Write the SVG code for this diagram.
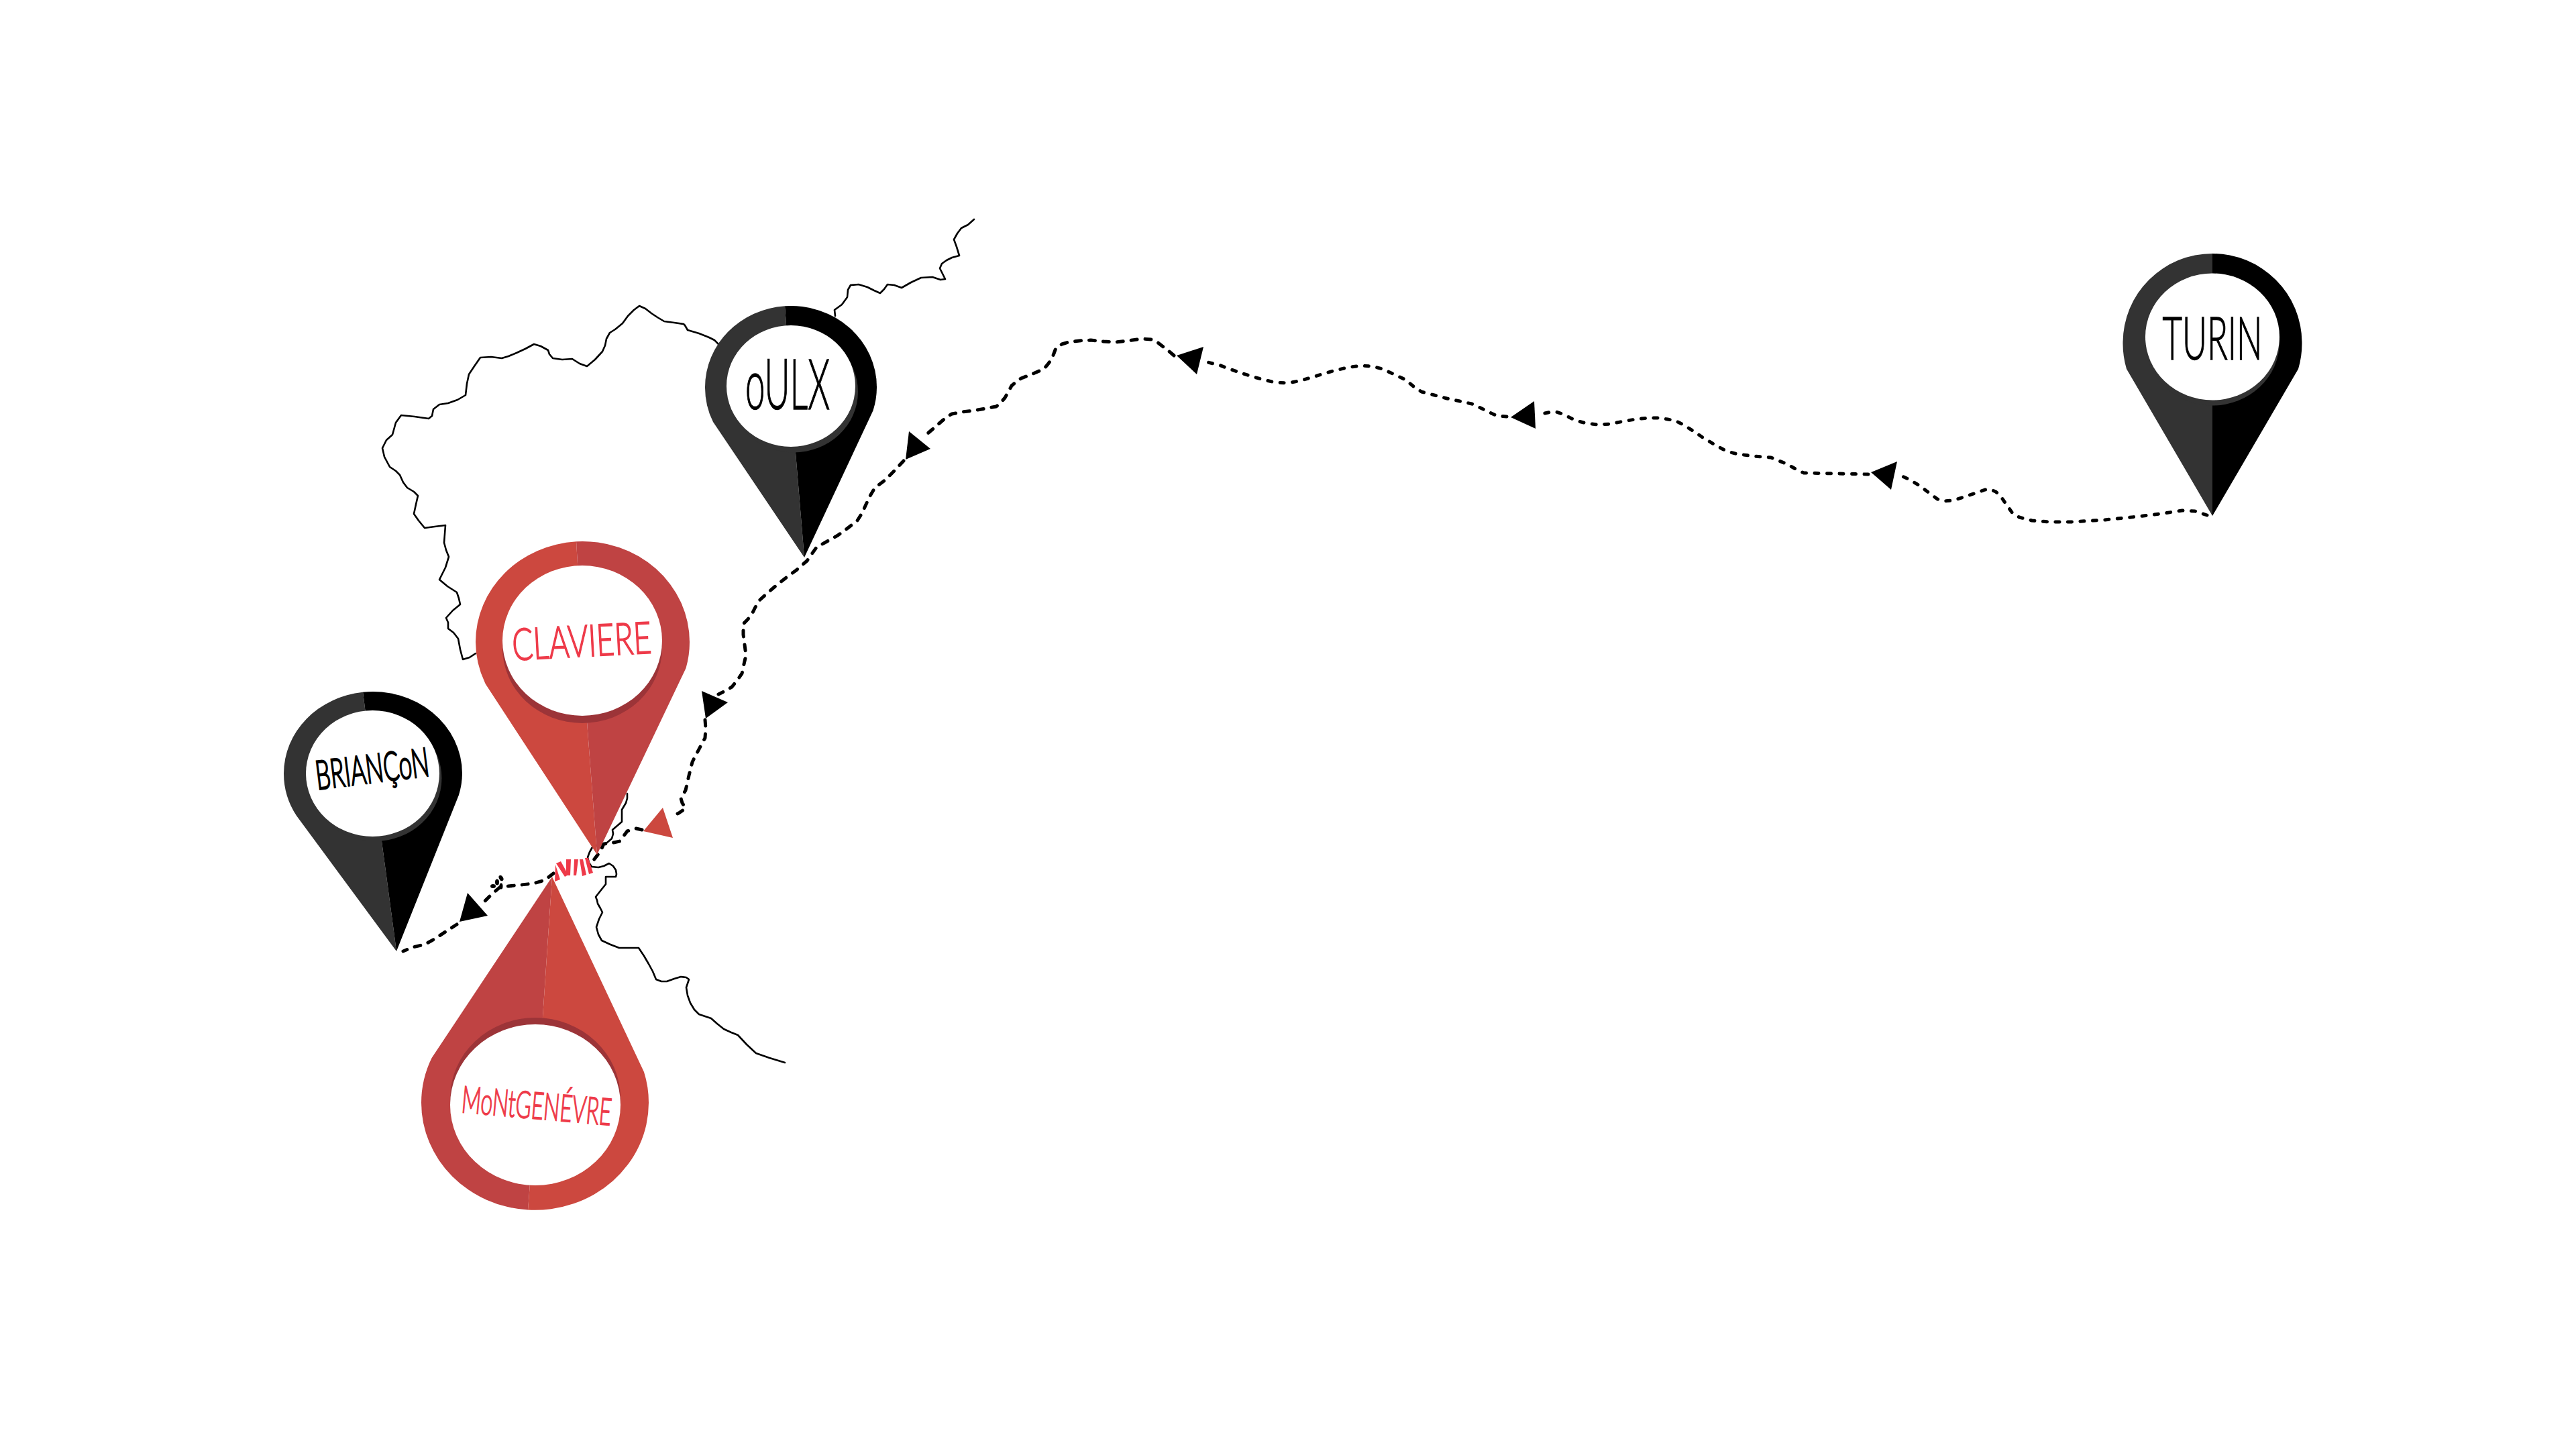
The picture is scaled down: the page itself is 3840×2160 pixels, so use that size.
<svg xmlns="http://www.w3.org/2000/svg" width="3840" height="2160" viewBox="0 0 3840 2160">
<style>
.river{fill:none;stroke:#000;stroke-width:2.6;stroke-linejoin:round;stroke-linecap:round}
.dot{fill:none;stroke:#000;stroke-width:5;stroke-linecap:round;stroke-linejoin:round;stroke-dasharray:6 12.500}
.dash{fill:none;stroke:#000;stroke-width:5;stroke-linecap:round;stroke-linejoin:round;stroke-dasharray:9 12}
.k1{fill:#333}.k2{fill:#000}.ks{fill:#333}
.r1{fill:#CC483F}.r2{fill:#BF4343}.rs{fill:#9C3438}
.w{fill:#fff}
.t{font-family:"Lato","Liberation Sans",sans-serif;font-weight:300;text-anchor:middle}
.tk{fill:#000;stroke:#000;stroke-width:1.4}
.tr{fill:#EE3A49;stroke:#EE3A49;stroke-width:1.6}
.stripe{fill:#EE3A49}
</style>
<g id="rivers">
<path class="river" d="M1452,327L1443,335L1433,340L1427,348L1422,357L1426,368L1430,381L1419,384L1411,388L1404,393L1401,400L1405,408L1409,416L1402,417L1390,413L1373,414L1358,421L1344,429L1333,425L1323,424L1318,431L1312,437L1303,433L1293,428L1280,424L1268,425L1264,432L1263,443L1255,454L1244,462L1245,471"/>
<path class="river" d="M1072,514L1065,507L1057,503L1042,497L1025,492L1021,485L1019,483L1005,481L990,479L980,473L971,467L962,460L953,456L945,462L936,471L928,482L917,491L909,496L904,505L902,515L898,524L887,536L875,546L864,542L853,535L838,536L824,534L819,528L817,522L806,516L796,513L783,520L770,526L758,531L748,534L732,532L716,533L707,546L699,558L696,572L694,589L682,596L668,601L655,603L646,610L644,620L639,624L618,621L598,619L590,630L585,648L576,656L570,668L573,681L581,696L590,702L596,708L601,719L607,727L617,733L623,739L620,752L617,766L624,776L633,787L648,785L664,783L663,796L662,809L665,820L669,830L664,846L655,864L667,874L681,883L684,892L686,901L675,910L665,921L668,928L668,937L676,943L683,952L686,968L690,983L700,980L709,974"/>
<path class="river" d="M935,1183L935,1190L933,1197L927,1207L927,1216L927,1225L920,1231L913,1237L914,1243L912,1250L905,1256L900,1258L890,1260L883,1263L879,1270L876,1278L878,1286L882,1292L892,1293L900,1291L908,1287L914,1291L918,1297L919,1303L918,1307L910,1307L903,1307L903,1313L903,1318L895,1328L888,1337L890,1342L891,1347L895,1354L898,1360L893,1370L889,1382L892,1393L897,1402L910,1408L923,1413L938,1413L952,1413L960,1425L967,1437L973,1448L978,1460L986,1463L994,1463L1005,1459L1015,1456L1023,1457L1027,1460L1023,1472L1025,1484L1029,1495L1035,1505L1042,1512L1060,1518L1069,1526L1079,1534L1090,1539L1100,1543L1113,1557L1127,1570L1147,1577L1170,1584"/>
</g>
<g id="connectors">
<path class="dot" d="M3290,768L3272,762L3253,761L3220,766L3187,770L3137,775L3087,778L3055,778L3029,776L3010,771L3000,765L2993,755L2988,748L2982,739L2975,733L2966,729L2959,730L2945,735L2930,740L2912,746L2897,747L2888,744L2880,738L2872,732L2863,725L2847,715L2829,707"/>
<path class="dot" d="M2785,707L2737,706L2689,705L2680,701L2673,697L2662,691L2652,687L2640,682L2615,680L2590,677L2579,674L2569,670L2558,664L2548,658L2538,652L2528,645L2517,638L2507,632L2497,627L2486,625L2472,623L2457,623L2438,625L2420,628L2400,632L2382,633L2365,631L2349,627L2339,622L2329,617L2320,614L2312,614L2303,616L2293,618"/>
<path class="dot" d="M2246,621L2232,620L2223,616L2209,609L2194,602L2176,598L2157,594L2138,589L2119,584L2107,576L2095,566L2078,558L2061,550L2045,546L2028,545L2008,548L1987,553L1970,558L1954,563L1936,568L1919,571L1901,570L1883,566L1866,561L1850,556L1833,550L1817,544L1796,539"/>
<path class="dash" d="M1750,530L1742,523L1734,517L1725,510L1717,506L1701,505L1682,508L1663,510L1645,509L1626,507L1609,508L1593,510L1583,513L1574,519L1571,527L1568,535L1562,543L1556,550L1540,557L1522,564L1515,569L1508,575L1503,584L1498,593L1492,600L1485,606L1469,609L1452,612L1435,614L1419,617L1412,621L1406,626L1398,633L1390,640L1383,646L1375,651"/>
<path class="dash" d="M1347,687L1333,702L1319,716L1311,722L1303,729L1296,741L1290,754L1285,765L1278,776L1264,787L1249,798L1233,807L1217,816L1210,826L1203,836L1195,843L1187,850L1172,861L1158,872L1145,883L1133,894L1126,905L1120,917L1114,924L1108,930L1108,938L1108,946L1110,961L1112,977L1109,990L1106,1004L1099,1014L1091,1024L1081,1030L1071,1035"/>
<path class="dash" d="M1051,1073L1052,1086L1051,1100L1044,1113L1037,1126L1032,1136L1027,1156L1022,1178L1015,1190L1017,1197L1022,1205L1012,1212L1002,1217"/>
<path class="dash" d="M957,1237L948,1235L935,1239L924,1254L910,1257L900,1258L895,1269L885,1282"/>
<path class="dash" d="M825,1302L812,1312L795,1317L777,1319L758,1321L746,1322L733,1333L721,1345"/>
<path class="dash" d="M681,1378L664,1389L649,1399L633,1408L615,1412L601,1418"/>
<g id="marks" fill="#000">
<ellipse cx="747" cy="1309" rx="3" ry="4.500" transform="rotate(-30 747 1309)"/>
<ellipse cx="741" cy="1315" rx="3" ry="4.500"/>
<ellipse cx="735" cy="1321" rx="4" ry="3"/>
<ellipse cx="747" cy="1321" rx="2.500" ry="4.500"/>
</g>
<polygon points="2789,704 2828,688 2819,730"/>
<polygon points="2252,622 2287,598 2289,639"/>
<polygon points="1754,530 1794,517 1784,558"/>
<polygon points="1355,643 1387,669 1350,685"/>
<polygon points="1046,1030 1085,1047 1052,1071"/>
<polygon points="988,1204 1003,1249 959,1239" fill="#CC483F"/>
<polygon points="697,1331 727,1365 685,1374"/>
<g id="border-crossing" class="stripe">
<polygon points="828,1289 835,1311 827,1314"/>
<polygon points="829,1287 836,1284 847,1304 842,1307"/>
<polygon points="844,1281 851,1281 850,1305 844,1305"/>
<polygon points="856,1281 862,1281 859,1305 855,1305"/>
<polygon points="864,1281 869,1281 874,1304 868,1306"/>
<polygon points="872,1279 877,1279 884,1301 878,1303"/>
</g>
</g>
<g id="turin">
<path class="k1" d="M3298,378A133.500,133 0 0 0 3164.500,511A133.500,133 0 0 0 3170,550L3298,769Z"/>
<path class="k2" d="M3298,378A133.500,133 0 0 1 3431.500,511A133.500,133 0 0 1 3426,550L3298,769Z"/>
<ellipse class="ks" cx="3298" cy="510" rx="100" ry="94.500"/>
<ellipse class="w" cx="3298" cy="502" rx="100" ry="94.500"/>
<text class="t tk" x="3298" y="536" font-size="88" textLength="149" lengthAdjust="spacingAndGlyphs">TURIN</text>
</g>
<g id="oulx">
<path class="k1" d="M1170,456.300A128,121 0 0 0 1051,577A128,121 0 0 0 1063,629L1199,831L1186,675Z"/>
<path class="k2" d="M1170,456.300A128,121 0 0 1 1307,577A128,121 0 0 1 1301.500,612L1199,831L1186,675Z"/>
<ellipse class="ks" cx="1183" cy="584" rx="96" ry="90.500"/>
<ellipse class="w" cx="1179" cy="575.500" rx="96" ry="90.500"/>
<text class="t tk" x="1174" y="610" font-size="105" textLength="126" lengthAdjust="spacingAndGlyphs">oULX</text>
</g>
<g id="briancon">
<path class="k1" d="M541,1031.800A133,122 0 0 0 423,1153A133,122 0 0 0 442,1216L591,1418L569,1254Z"/>
<path class="k2" d="M541,1031.800A133,122 0 0 1 689,1153A133,122 0 0 1 684,1185L591,1418L569,1254Z"/>
<ellipse class="ks" cx="559" cy="1160" rx="99.500" ry="94"/>
<ellipse class="w" cx="555.500" cy="1153" rx="99.500" ry="94"/>
<text class="t tk" style="stroke-width:2.4" transform="rotate(-7 555 1148)" x="555" y="1167" font-size="60" textLength="170" lengthAdjust="spacingAndGlyphs">BRIANÇoN</text>
</g>
<g id="claviere">
<path class="r1" d="M859,807.300A159.500,150 0 0 0 709,957A159.500,150 0 0 0 724,1020L890,1274L875,1076Z"/>
<path class="r2" d="M859,807.300A159.500,150 0 0 1 1028,957A159.500,150 0 0 1 1022.500,996L890,1274L875,1076Z"/>
<ellipse class="rs" cx="868" cy="966" rx="119" ry="112"/>
<ellipse class="w" cx="868" cy="955" rx="119" ry="112"/>
<text class="t tr" transform="rotate(-3 867 955)" x="867" y="979" font-size="66" textLength="208" lengthAdjust="spacingAndGlyphs">CLAVIERE</text>
</g>
<g id="montgenevre">
<path class="r2" d="M787,1803.500A169.500,160 0 0 1 628,1644A169.500,160 0 0 1 643.600,1577L823,1307L809,1516Z"/>
<path class="r1" d="M787,1803.500A169.500,160 0 0 0 967,1644A169.500,160 0 0 0 960,1598L823,1307L809,1516Z"/>
<ellipse class="rs" cx="798" cy="1637" rx="127" ry="120"/>
<ellipse class="w" cx="798" cy="1647" rx="127" ry="120"/>
<text class="t tr" transform="rotate(5 800 1650)" x="800" y="1668" font-size="56" textLength="224" lengthAdjust="spacingAndGlyphs">MoNtGENÉVRE</text>
</g>
</svg>
